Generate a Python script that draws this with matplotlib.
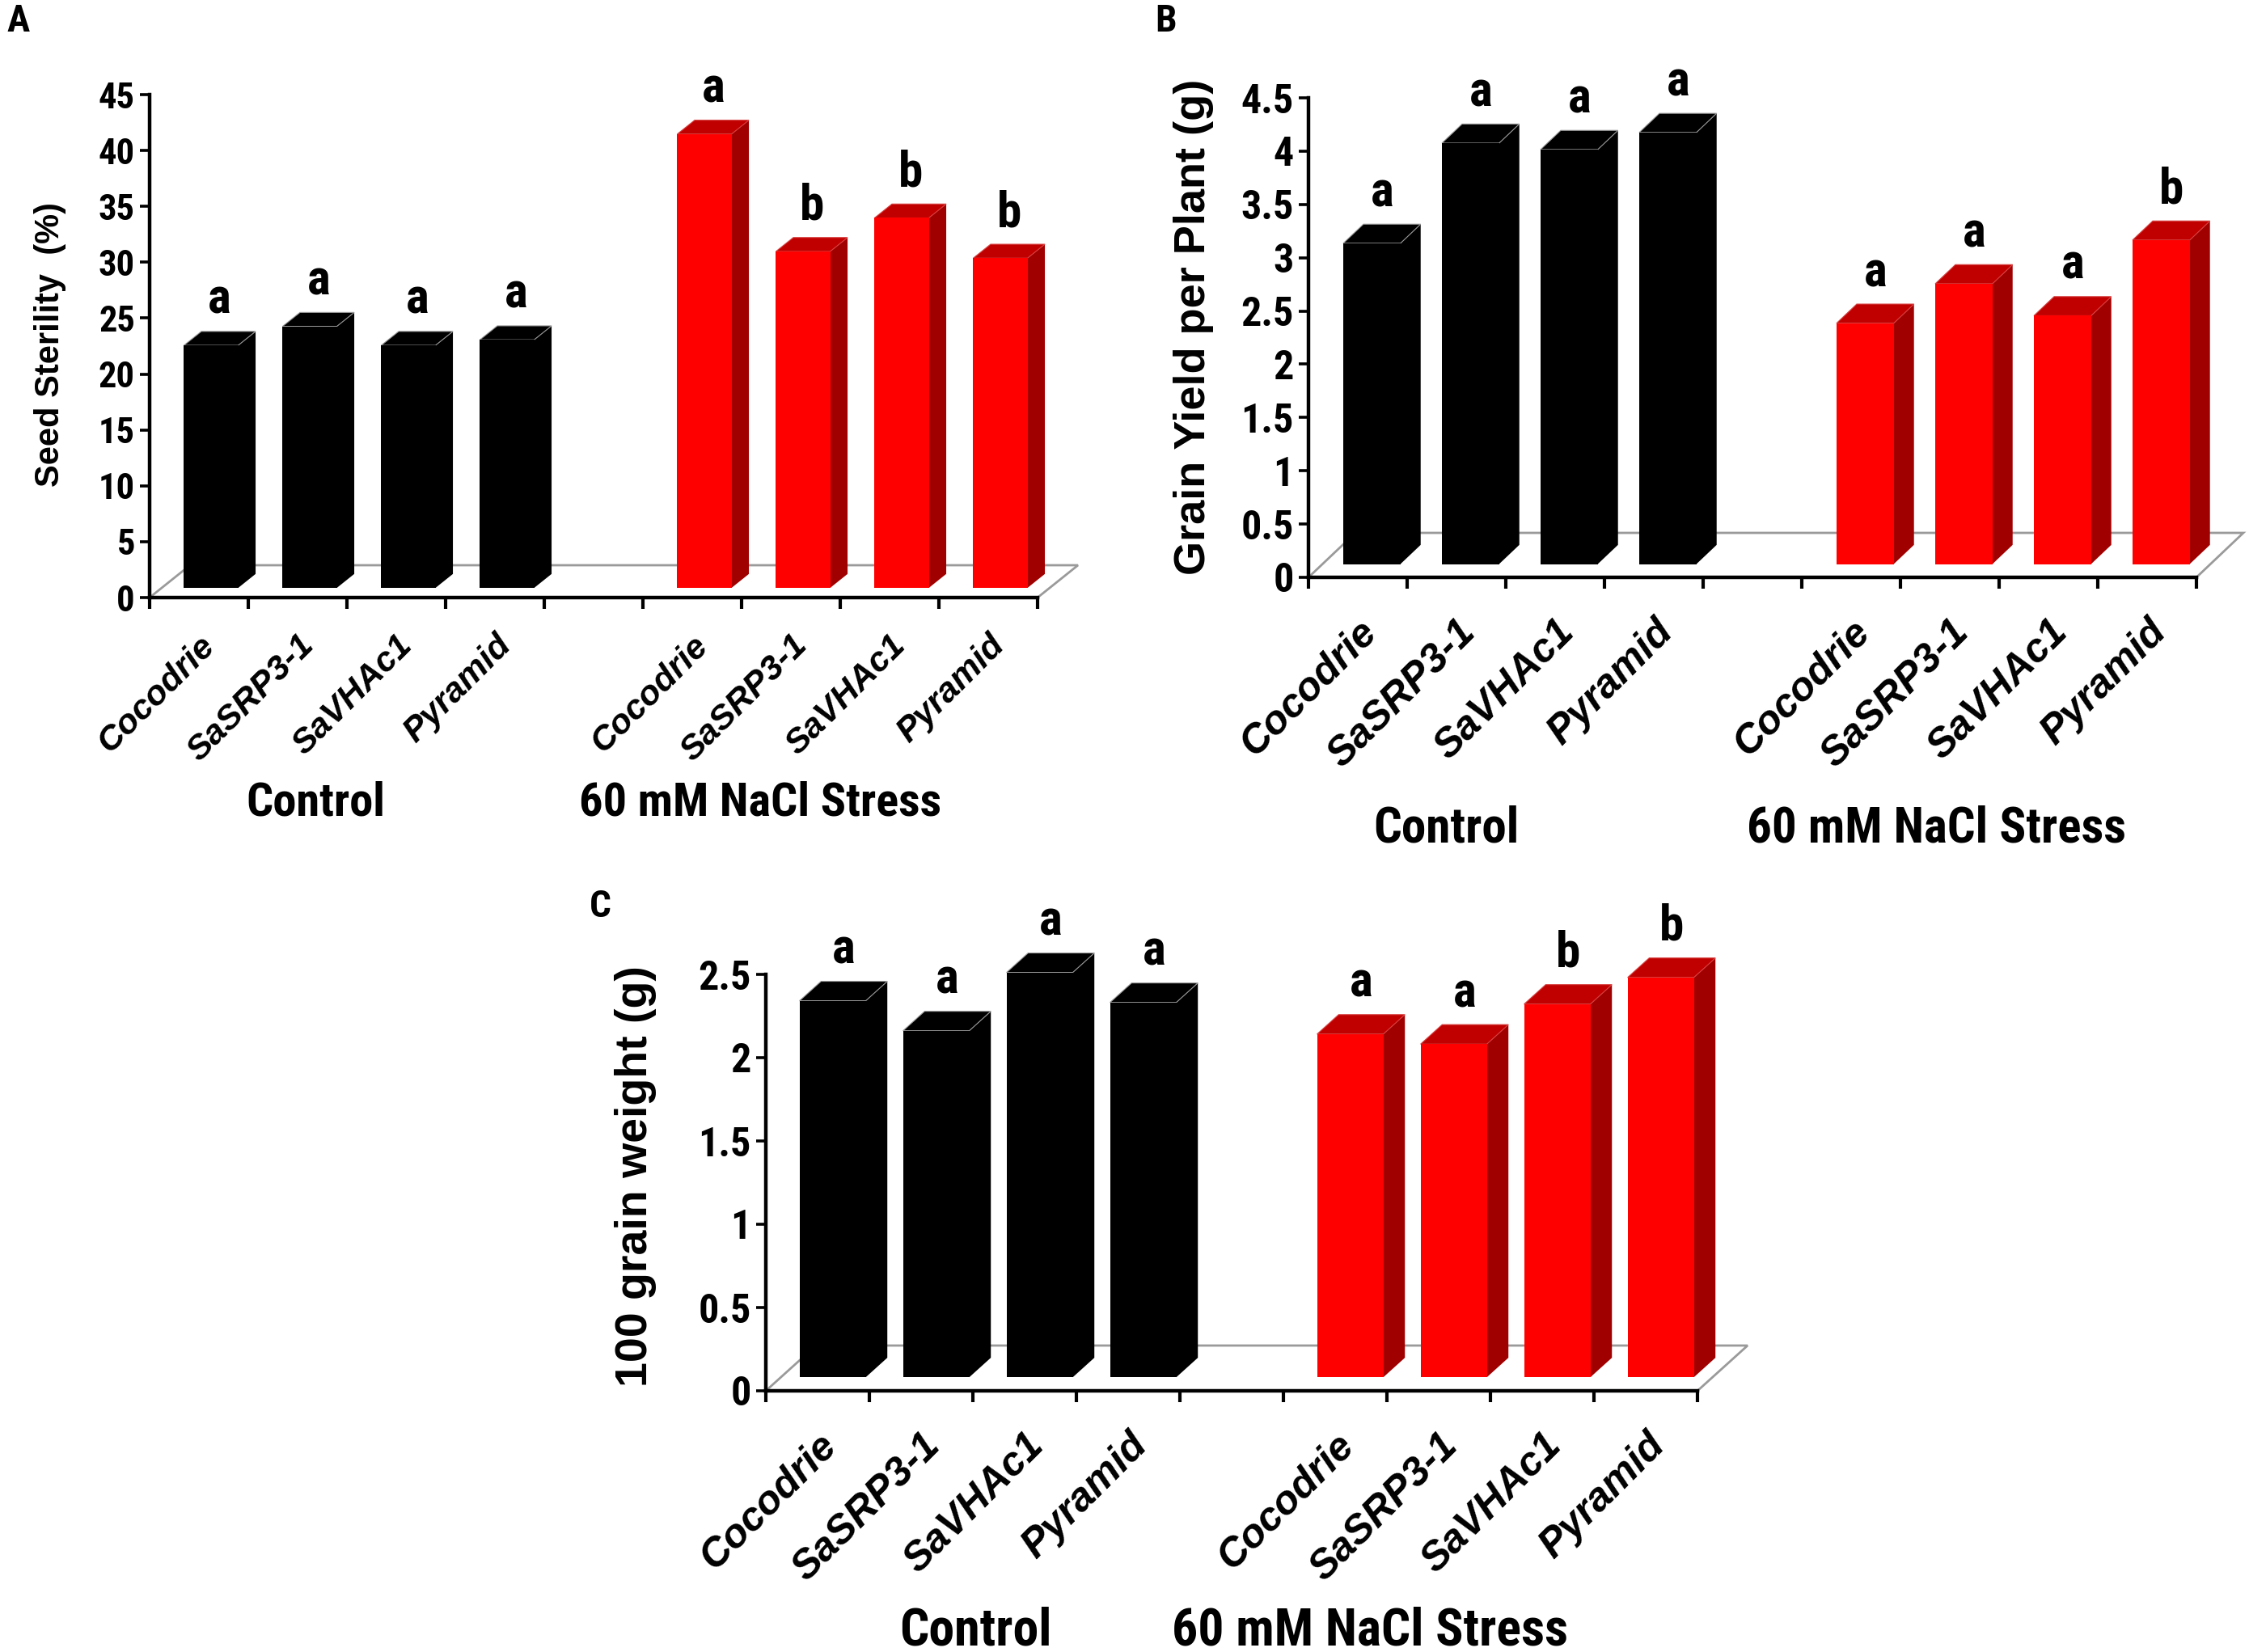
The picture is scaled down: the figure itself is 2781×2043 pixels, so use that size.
import numpy as np
import matplotlib
matplotlib.use("Agg")
import matplotlib.pyplot as plt
from matplotlib.patches import Polygon
from matplotlib.transforms import IdentityTransform, ScaledTranslation
from matplotlib import font_manager

# data (front face height of each 3D bar)
genotypes = ["Cocodrie", "SaSRP3-1", "SaVHAc1", "Pyramid"]
groups = ["Control", "60 mM NaCl Stress"]

sterility_control = [21.7, 23.4, 21.7, 22.2]
sterility_nacl = [40.6, 30.1, 33.1, 29.5]
sterility_letters = ["a", "a", "a", "a", "a", "b", "b", "b"]

yield_control = [3.01, 3.95, 3.89, 4.05]
yield_nacl = [2.26, 2.63, 2.33, 3.04]
yield_letters = ["a", "a", "a", "a", "a", "a", "a", "b"]

weight_control = [2.26, 2.08, 2.43, 2.25]
weight_nacl = [2.06, 2.00, 2.24, 2.40]
weight_letters = ["a", "a", "a", "a", "a", "a", "b", "b"]

# pick a narrow bold face if one is installed
fonts = font_manager.fontManager.ttflist
names = {f.name for f in fonts}
NARROW, STRETCH = "Liberation Sans", "normal"
for cand in ["Liberation Sans Narrow", "Arial Narrow", "Roboto Condensed",
             "Open Sans Condensed", "Noto Sans Condensed"]:
    if cand in names:
        NARROW = cand
        break
else:
    cond = [f for f in fonts if f.stretch in ("condensed", "semi-condensed")
            and f.weight in ("bold", 700)]
    if cond:
        NARROW, STRETCH = cond[0].name, cond[0].stretch
WIDE = "Liberation Sans"

RED_FRONT = "#ff0000"
RED_SIDE = "#a00000"
RED_TOP = "#c00000"

W, H = 2781, 2043
fig = plt.figure(figsize=(W / 100, H / 100), dpi=100)
fig.patch.set_facecolor("white")


def narrow(size):
    return dict(fontfamily=NARROW, fontstretch=STRETCH, fontweight="bold",
                fontsize=size)


def disp(ax, x, y, ox=0.0, oy=0.0):
    px, py = ax.transData.transform((x, y))
    return (px + ox, py + oy)


def poly(ax, pts, fc, ec="none", lw=0, z=3):
    p = Polygon(pts, closed=True, facecolor=fc, edgecolor=ec, linewidth=lw,
                transform=IdentityTransform(), clip_on=False, zorder=z)
    ax.add_artist(p)


def draw_panel(ax, control, nacl, letters, ymax, yticks, floor_d, bar_w,
               tick_fs, cat_fs, cat_pad, letter_fs):
    pos = [0, 1, 2, 3, 5, 6, 7, 8]
    vals = list(control) + list(nacl)
    ax.set_xlim(-0.5, 8.5)
    ax.set_ylim(0, ymax)
    for s in ["top", "right"]:
        ax.spines[s].set_visible(False)
    for s in ["left", "bottom"]:
        ax.spines[s].set_linewidth(3.2)
        ax.spines[s].set_zorder(4)
    ax.set_facecolor("none")

    ax.set_yticks(yticks)
    ax.set_yticklabels([("%g" % t) for t in yticks], **narrow(tick_fs))
    ax.tick_params(axis="y", length=9, width=2.6, direction="out", pad=4)

    ax.set_xticks(pos)
    ax.set_xticklabels(genotypes + genotypes, rotation=45, ha="right",
                       rotation_mode="anchor", fontfamily=WIDE,
                       fontweight="bold", style="italic", fontsize=cat_fs)
    shift = ScaledTranslation(-0.09, 0, fig.dpi_scale_trans)
    for lab in ax.get_xticklabels():
        lab.set_transform(lab.get_transform() + shift)
    ax.tick_params(axis="x", which="major", length=0, pad=cat_pad)
    ax.set_xticks(np.arange(-0.5, 9.0, 1.0), minor=True)
    ax.tick_params(axis="x", which="minor", length=10, width=3.0,
                   direction="out")

    fdx, fdy = floor_d
    # floor of the 3D plot
    floor = [disp(ax, -0.5, 0), disp(ax, 8.5, 0),
             disp(ax, 8.5, 0, fdx, fdy), disp(ax, -0.5, 0, fdx, fdy)]
    poly(ax, floor, "white", "#9a9a9a", 2.0, z=1)

    ox, oy = 0.3 * fdx, 0.3 * fdy
    dx, dy = 0.43 * fdx, 0.43 * fdy
    for i, (x, v) in enumerate(zip(pos, vals)):
        red = x > 4
        fl = disp(ax, x - bar_w / 2, 0, ox, oy)
        fr = disp(ax, x + bar_w / 2, 0, ox, oy)
        tr = disp(ax, x + bar_w / 2, v, ox, oy)
        tl = disp(ax, x - bar_w / 2, v, ox, oy)
        br = (fr[0] + dx, fr[1] + dy)
        btr = (tr[0] + dx, tr[1] + dy)
        btl = (tl[0] + dx, tl[1] + dy)
        if red:
            poly(ax, [fr, br, btr, tr], RED_SIDE)
            poly(ax, [tl, tr, btr, btl], RED_TOP, "#d84040", 0.8)
            poly(ax, [fl, fr, tr, tl], RED_FRONT)
        else:
            poly(ax, [fr, br, btr, tr], "black")
            poly(ax, [tl, tr, btr, btl], "black", "#9a9a9a", 0.8)
            poly(ax, [fl, fr, tr, tl], "black")
        ax.text((tl[0] + btr[0]) / 2, btr[1] + 10, letters[i],
                transform=IdentityTransform(), ha="center", va="bottom",
                zorder=5, **narrow(letter_fs))


axA = fig.add_axes([185 / W, 1 - 739 / H, 1098 / W, 622 / H])
axB = fig.add_axes([1618 / W, 1 - 714 / H, 1098 / W, 593 / H])
axC = fig.add_axes([947 / W, 1 - 1720 / H, 1152 / W, 515 / H])

draw_panel(axA, sterility_control, sterility_nacl, sterility_letters, 45,
           np.arange(0, 46, 5), (50, 40), 0.55, 32, 31, 28, 44)
draw_panel(axB, yield_control, yield_nacl, yield_letters, 4.5,
           np.arange(0, 4.51, 0.5), (58, 55), 0.58, 36, 36, 32, 44)
draw_panel(axC, weight_control, weight_nacl, weight_letters, 2.5,
           np.arange(0, 2.51, 0.5), (62, 56), 0.64, 36, 36, 32, 44)

# axis titles
fig.text(62 / W, 1 - 426 / H, "Seed Sterility  (%)", rotation=90,
         ha="center", va="center", fontfamily=WIDE, fontweight="bold",
         fontsize=30)
fig.text(1476 / W, 1 - 404 / H, "Grain Yield per Plant (g)", rotation=90,
         ha="center", va="center", fontfamily=WIDE, fontweight="bold",
         fontsize=39)
fig.text(786 / W, 1 - 1455 / H, "100 grain weight (g)", rotation=90,
         ha="center", va="center", fontfamily=WIDE, fontweight="bold",
         fontsize=40)

# group labels
group_pos = [((390, 993), (940, 993), 42),
             ((1788, 1025), (2395, 1025), 44),
             ((1206, 2017), (1694, 2017), 46)]
for (c, n, fs) in group_pos:
    for (px, py), lab in zip((c, n), groups):
        fig.text(px / W, 1 - py / H, lab, ha="center", va="center",
                 **narrow(fs))

# panel letters
for lab, (px, py) in zip("ABC", [(23, 26), (1442, 26), (742, 1121)]):
    fig.text(px / W, 1 - py / H, lab, ha="center", va="center",
             **narrow(34))

fig.savefig("out.png", dpi=100, facecolor="white")
